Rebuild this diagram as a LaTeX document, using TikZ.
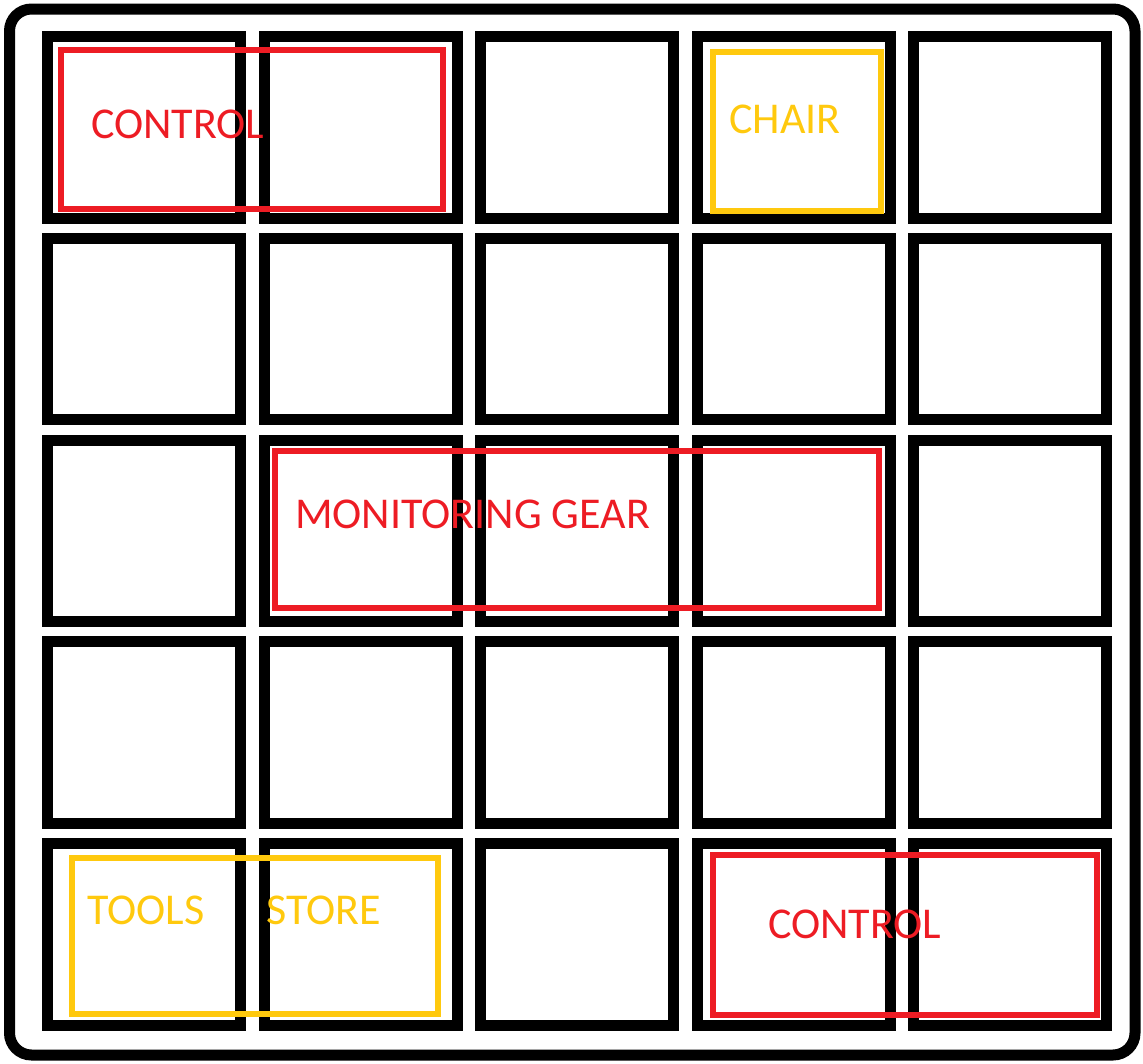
\documentclass[tikz,border=0pt]{standalone}
\usepackage{fontspec}
\setmainfont{Carlito}
\definecolor{zonered}{HTML}{ED1C24}
\definecolor{zoneyellow}{HTML}{FFC90E}

\begin{document}
\begin{tikzpicture}[x=1pt,y=-1pt,
  cell/.style={black,line width=11pt},
  zone/.style={line width=6.5pt},
  tag/.style={font=\fontsize{44}{44}\selectfont, anchor=base west, inner sep=0}]
\useasboundingbox (0,0) rectangle (1143,1063);
\draw[black, line width=11pt, rounded corners=22pt] (9.5,9) rectangle (1135,1055);
\foreach \i in {0,...,4} {
 \foreach \j in {0,...,4} {
  \draw[cell] ({47.5+216.5*\i},{36.5+201.75*\j}) rectangle ++(193,181.5);
 }
}
% zones
\draw[zone, zonered] (61,50) rectangle (443,209);
\draw[zone, zoneyellow] (713,52) rectangle (881,211);
\draw[zone, zonered] (275,451) rectangle (879,608);
\draw[zone, zoneyellow] (72,858) rectangle (438,1014);
\draw[zone, zonered] (713,855) rectangle (1097,1015);
% labels
\node[tag, text=zonered] (control1) at (91,138) {CONTROL};
\node[tag, text=zoneyellow] (chair) at (729,133) {CHAIR};
\node[tag, text=zonered] (gear) at (295,528) {MONITORING GEAR};
\node[tag, text=zoneyellow] (tools) at (87,924) {TOOLS};
\node[tag, text=zoneyellow] (store) at (266,924) {STORE};
\node[tag, text=zonered] (control2) at (768,938) {CONTROL};
\end{tikzpicture}
\end{document}
